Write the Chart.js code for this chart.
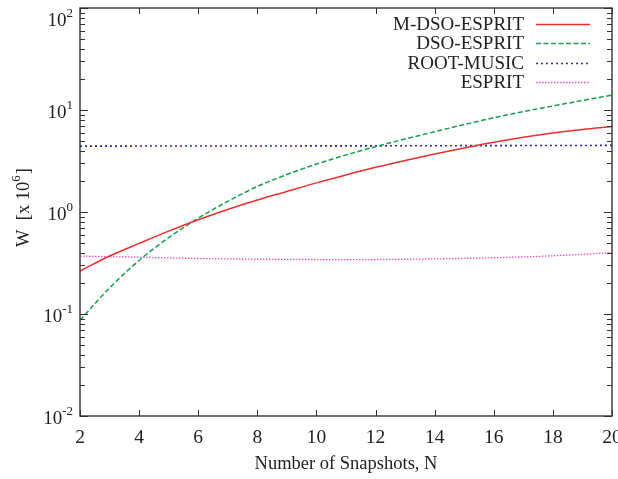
<!DOCTYPE html>
<html>
<head>
<meta charset="utf-8">
<script src="https://cdn.jsdelivr.net/npm/chart.js@4"></script>
<style>
  html, body { margin: 0; padding: 0; background: #fff; }
  #wrap { width: 618px; height: 479px; }
</style>
</head>
<body>
<div id="wrap"><canvas id="chart" width="618" height="479"></canvas></div>
<script>
// ==========================
// DATA
// ==========================
const snapshots = [2, 3, 4, 5, 6, 7, 8, 9, 10, 11, 12, 13, 14, 15, 16, 17, 18, 19, 20];

const mDsoEsprit = [0.264, 0.37, 0.492, 0.65, 0.84, 1.06, 1.31, 1.59, 1.93, 2.31, 2.74, 3.2, 3.7, 4.24, 4.82, 5.4, 5.95, 6.45, 6.9];
const dsoEsprit  = [0.087, 0.18, 0.335, 0.56, 0.87, 1.27, 1.78, 2.33, 2.95, 3.62, 4.37, 5.2, 6.12, 7.2, 8.4, 9.65, 10.95, 12.4, 14.0];
const rootMusic  = [4.42, 4.42, 4.43, 4.43, 4.43, 4.44, 4.44, 4.44, 4.45, 4.45, 4.45, 4.46, 4.46, 4.47, 4.47, 4.48, 4.48, 4.49, 4.50];
const esprit     = [0.37, 0.365, 0.36, 0.355, 0.35, 0.347, 0.345, 0.343, 0.342, 0.341, 0.342, 0.344, 0.347, 0.351, 0.356, 0.363, 0.372, 0.385, 0.40];

const xTicks = [2, 4, 6, 8, 10, 12, 14, 16, 18, 20];
const yDecades = [-2, -1, 0, 1, 2];

const FONT = "Liberation Serif, Times New Roman, serif";
const INK = "#222";

// ==========================
// HELPERS
// ==========================
function series(label, values, color, dash, width) {
    return {
        label,
        data: snapshots.map((n, i) => ({ x: n, y: values[i] })),
        borderColor: color,
        borderWidth: width,
        borderDash: dash,
        pointRadius: 0,
        fill: false,
        cubicInterpolationMode: "monotone"
    };
}

// ==========================
// FRAME, TICKS, LABELS, KEY
// ==========================
const gnuplotLook = {
    id: "gnuplotLook",
    afterDraw(chart) {
        const ctx = chart.ctx;
        const a = chart.chartArea;
        const xs = chart.scales.x;
        const ys = chart.scales.y;
        ctx.save();

        // ticks
        ctx.strokeStyle = "#333";
        ctx.lineWidth = 1;
        ctx.beginPath();
        yDecades.forEach(d => {
            for (let m = 1; m <= 9; m++) {
                if (d === 2 && m > 1) break;
                const y = Math.round(ys.getPixelForValue(m * Math.pow(10, d))) + 0.5;
                const len = m === 1 ? 8 : 5;
                ctx.moveTo(a.left, y); ctx.lineTo(a.left + len, y);
                ctx.moveTo(a.right, y); ctx.lineTo(a.right - len, y);
            }
        });
        xTicks.forEach(t => {
            const x = Math.round(xs.getPixelForValue(t)) + 0.5;
            ctx.moveTo(x, a.bottom); ctx.lineTo(x, a.bottom - 6);
            ctx.moveTo(x, a.top); ctx.lineTo(x, a.top + 6);
        });
        ctx.stroke();

        // frame
        ctx.lineWidth = 1.4;
        ctx.strokeRect(a.left, a.top, a.right - a.left, a.bottom - a.top);

        // y tick labels 10^n
        ctx.fillStyle = INK;
        ctx.textBaseline = "middle";
        yDecades.forEach(d => {
            const y = Math.max(ys.getPixelForValue(Math.pow(10, d)) + 3, a.top + 13);
            const exp = String(d);
            ctx.font = "13px " + FONT;
            const ew = ctx.measureText(exp).width;
            const right = a.left - 7;
            ctx.textAlign = "left";
            ctx.fillText(exp, right - ew, y - 7);
            ctx.font = "19px " + FONT;
            ctx.textAlign = "right";
            ctx.fillText("10", right - ew, y);
        });

        // x axis title
        ctx.font = "18.5px " + FONT;
        ctx.textAlign = "center";
        ctx.fillText("Number of Snapshots, N", (a.left + a.right) / 2, 464);

        // y axis title, rotated
        ctx.save();
        ctx.translate(24, 208);
        ctx.rotate(-Math.PI / 2);
        ctx.textAlign = "left";
        const p1 = "W  [x 10";
        const p3 = "]";
        ctx.font = "18.5px " + FONT;
        const w1 = ctx.measureText(p1).width;
        ctx.font = "13px " + FONT;
        const w2 = ctx.measureText("6").width;
        ctx.font = "18.5px " + FONT;
        const w3 = ctx.measureText(p3).width;
        const x0 = -(w1 + w2 + w3) / 2;
        ctx.fillText(p1, x0, 0);
        ctx.font = "13px " + FONT;
        ctx.fillText("6", x0 + w1, -7);
        ctx.font = "18.5px " + FONT;
        ctx.fillText(p3, x0 + w1 + w2 + 1, 0);
        ctx.restore();

        // key
        const keyY = [24, 43, 63, 82];
        chart.data.datasets.forEach((ds, i) => {
            const y = keyY[i];
            ctx.font = "19px " + FONT;
            ctx.textAlign = "right";
            ctx.fillStyle = INK;
            ctx.fillText(ds.label, 524, y + 1);
            ctx.beginPath();
            ctx.strokeStyle = ds.borderColor;
            ctx.lineWidth = ds.borderWidth;
            ctx.setLineDash(ds.borderDash);
            ctx.moveTo(536, y + 0.5);
            ctx.lineTo(590, y + 0.5);
            ctx.stroke();
            ctx.setLineDash([]);
        });

        ctx.restore();
    }
};

// ==========================
// CHART
// ==========================
new Chart(document.getElementById("chart"), {
    type: "line",
    data: {
        datasets: [
            series("M-DSO-ESPRIT", mDsoEsprit, "#ee2f2f", [], 1.5),
            series("DSO-ESPRIT", dsoEsprit, "#16a04e", [5, 2.5], 1.5),
            series("ROOT-MUSIC", rootMusic, "#2b2f9c", [2, 3], 1.6),
            series("ESPRIT", esprit, "#f04cc4", [1.5, 1.5], 1.3)
        ]
    },
    options: {
        responsive: false,
        animation: false,
        layout: { padding: { left: 80, right: 6, top: 8, bottom: 0 } },
        plugins: {
            legend: { display: false },
            tooltip: { enabled: false }
        },
        scales: {
            x: {
                type: "linear",
                min: 2,
                max: 20,
                afterBuildTicks: scale => {
                    scale.ticks = xTicks.map(v => ({ value: v }));
                },
                afterFit: scale => {
                    scale.height = 63;
                    scale.paddingLeft = 0;
                    scale.paddingRight = 0;
                },
                grid: { display: false, drawTicks: false },
                border: { display: false },
                ticks: {
                    color: INK,
                    padding: 10,
                    maxRotation: 0,
                    autoSkip: false,
                    font: { family: FONT, size: 19.5 }
                }
            },
            y: {
                type: "logarithmic",
                min: 0.01,
                max: 100,
                display: false
            }
        }
    },
    plugins: [gnuplotLook]
});
</script>
</body>
</html>
